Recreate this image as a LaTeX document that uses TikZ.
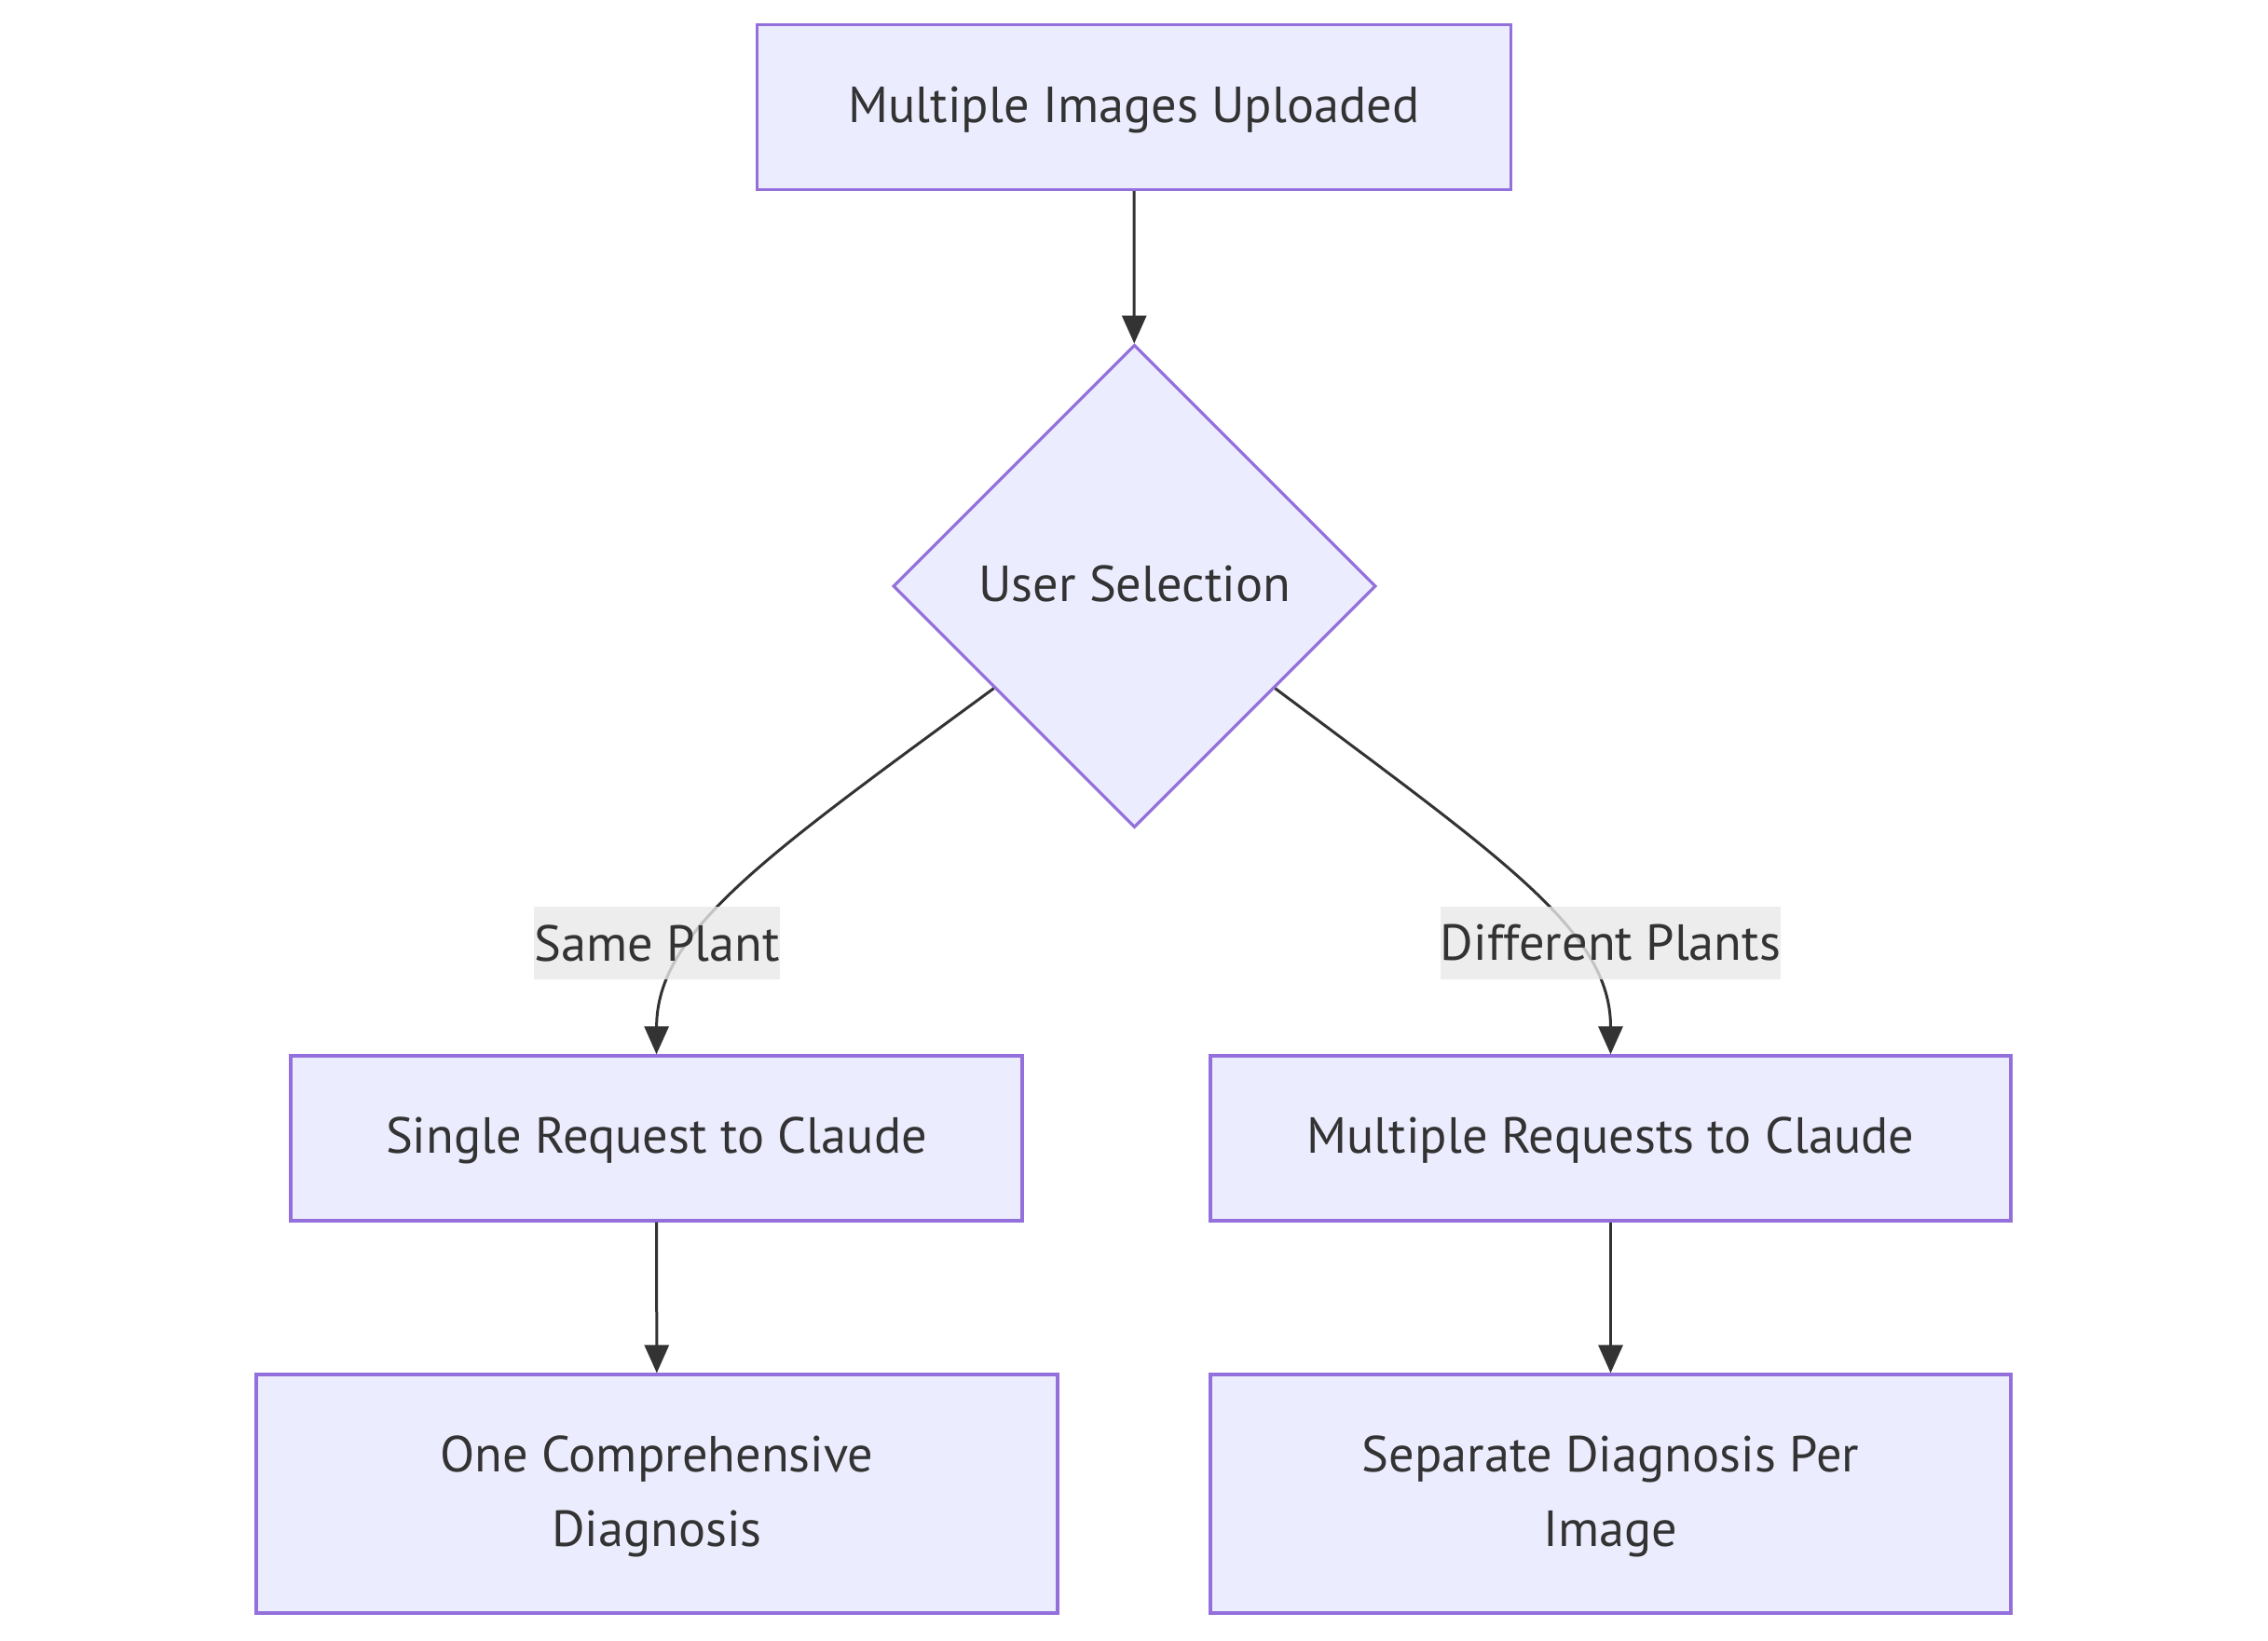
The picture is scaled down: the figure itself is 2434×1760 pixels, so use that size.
\documentclass[tikz,border=0pt]{standalone}
\usepackage{fontspec}
\setmainfont{PT Sans}
\usetikzlibrary{shapes.geometric,arrows.meta}
\definecolor{nodefill}{HTML}{ECECFF}
\definecolor{nodeline}{HTML}{9370DB}
\definecolor{ink}{HTML}{333333}
\definecolor{lblbg}{HTML}{E8E8E8}
\begin{document}
\begin{tikzpicture}[x=0.25pt,y=-0.25pt,
  box/.style={draw=nodeline,fill=nodefill,line width=0.8pt,rectangle,inner sep=0pt,
     text=ink,align=center,font=\fontsize{13.6}{20}\selectfont},
  decide/.style={draw=nodeline,fill=nodefill,line width=0.8pt,diamond,inner sep=0pt,
     minimum width=129.5pt,minimum height=129.5pt,text=ink,font=\fontsize{13.6}{20}\selectfont},
  lbl/.style={fill=lblbg,fill opacity=0.8,text opacity=1,text=ink,inner sep=0pt,
     minimum height=19.5pt,font=\fontsize{13.6}{20}\selectfont},
  edge/.style={draw=ink,line width=0.75pt,-{Triangle[length=7.5pt,width=6.5pt]}}]
\useasboundingbox (0,0) rectangle (2434,1760);
\node[box,minimum width=202.25pt,minimum height=44.25pt] (up) at (1217,115) {\strut Multiple Images Uploaded};
\node[decide] (sel) at (1217.5,629) {\strut User Selection};
\node[box,minimum width=196.25pt,minimum height=44.25pt] (single) at (704.5,1221.5) {\strut Single Request to Claude};
\node[box,minimum width=214.75pt,minimum height=44.25pt] (multi) at (1728.5,1221.5) {\strut Multiple Requests to Claude};
\node[box,minimum width=215pt,minimum height=64pt] (one) at (705,1603) {\strut One Comprehensive\\\strut Diagnosis};
\node[box,minimum width=214.75pt,minimum height=64pt] (sep) at (1728.5,1603) {\strut Separate Diagnosis Per\\\strut Image};
\draw[edge] (up) -- (sel);
\draw[edge] (sel.-144) .. controls (818,921) and (705,1000) .. (single.north);
\draw[edge] (sel.-36) .. controls (1616,924) and (1728.5,1000) .. (multi.north);
\draw[edge] (single) -- (one);
\draw[edge] (multi) -- (sep);
\node[lbl] (lsame) at (705,1012) {Same Plant};
\node[lbl] (ldiff) at (1728.5,1012) {Different Plants};
\end{tikzpicture}
\end{document}
